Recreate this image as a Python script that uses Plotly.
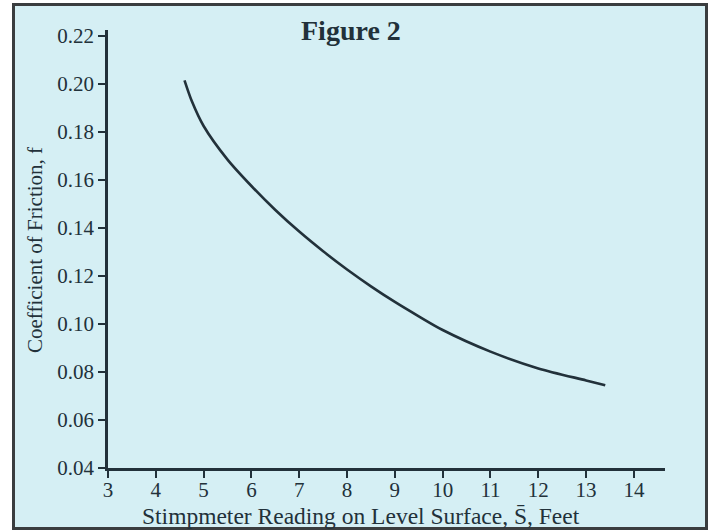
import plotly.graph_objects as go

# Data
stimp = [4.6, 4.75, 5.0, 5.5, 6.0, 6.5, 7.0, 7.5, 8.0, 8.5, 9.0, 9.5, 10.0, 11.0, 12.0, 13.0, 13.4]
friction = [0.2015, 0.193, 0.1825, 0.1685, 0.1575, 0.1475, 0.1385, 0.1303, 0.1227, 0.1157,
            0.1092, 0.1032, 0.0975, 0.0885, 0.0815, 0.0765, 0.0745]
x_ticks = [3, 4, 5, 6, 7, 8, 9, 10, 11, 12, 13, 14]
y_ticks = [0.04, 0.06, 0.08, 0.10, 0.12, 0.14, 0.16, 0.18, 0.20, 0.22]

BG = "#d5eff4"
INK = "#22313a"
FONT = "Liberation Serif"

L, R, T, B = 108, 47, 30, 63
W, H = 712, 531
pw = W - L - R
ph = H - T - B

def px2x(px):
    return (px - L) / pw

def py2y(py):
    return (H - B - py) / ph

fig = go.Figure()
fig.add_trace(go.Scatter(
    x=stimp, y=friction, mode="lines",
    line=dict(color=INK, width=2.6, shape="spline", smoothing=0.8),
    hoverinfo="skip", showlegend=False,
))

fig.add_shape(type="rect", xref="paper", yref="paper",
              x0=px2x(13.5), x1=px2x(706.5), y0=py2y(528.5), y1=py2y(4.5),
              fillcolor=BG, line=dict(color="#3a3d3f", width=3), layer="below")

fig.add_annotation(text="<b>Figure 2</b>", xref="paper", yref="paper",
                   x=px2x(351), y=py2y(31), xanchor="center", yanchor="middle",
                   showarrow=False,
                   font=dict(family=FONT, size=28, color=INK))

fig.add_annotation(text="Stimpmeter Reading on Level Surface, S\u0304, Feet",
                   xref="paper", yref="paper",
                   x=px2x(361), y=py2y(516), xanchor="center", yanchor="middle",
                   showarrow=False,
                   font=dict(family=FONT, size=23.5, color=INK))

fig.add_annotation(text="Coefficient of Friction, f",
                   xref="paper", yref="paper", textangle=-90,
                   x=px2x(35), y=py2y(250), xanchor="center", yanchor="middle",
                   showarrow=False,
                   font=dict(family=FONT, size=21, color=INK))

fig.update_layout(
    width=W, height=H,
    margin=dict(l=L, r=R, t=T, b=B),
    paper_bgcolor="white",
    plot_bgcolor="rgba(0,0,0,0)",
    font=dict(family=FONT, color=INK),
    showlegend=False,
)

fig.update_xaxes(
    range=[3, 14.65], tickvals=x_ticks, ticktext=[str(v) for v in x_ticks],
    showgrid=False, zeroline=False,
    showline=True, linecolor=INK, linewidth=2.5,
    ticks="outside", ticklen=7, tickwidth=2, tickcolor=INK,
    ticklabelstandoff=-6,
    tickfont=dict(family=FONT, size=21, color=INK),
)
fig.update_yaxes(
    range=[0.04, 0.2225], tickvals=y_ticks, ticktext=[f"{v:.2f}" for v in y_ticks],
    showgrid=False, zeroline=False,
    showline=True, linecolor=INK, linewidth=2.5,
    ticks="outside", ticklen=7, tickwidth=2, tickcolor=INK,
    tickfont=dict(family=FONT, size=21, color=INK),
)

fig.write_html("out.html", config={"displayModeBar": False},
               post_script="document.body.style.margin='0';document.body.style.padding='0';")
